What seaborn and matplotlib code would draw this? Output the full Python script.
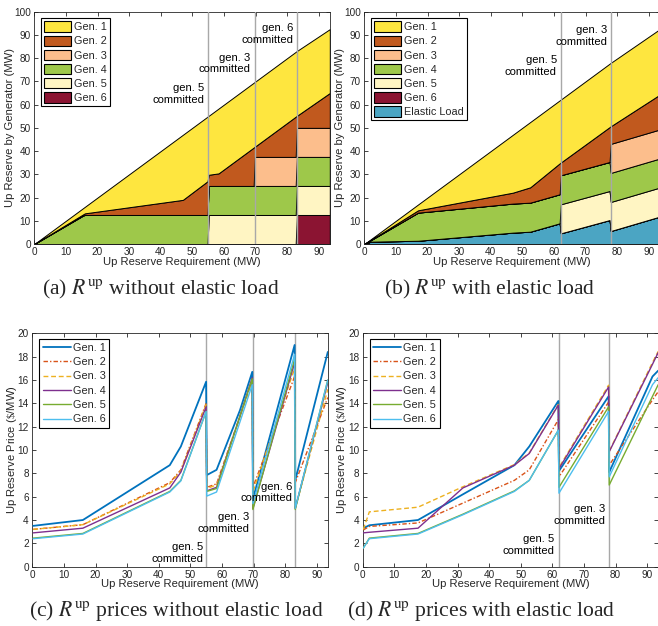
import matplotlib
matplotlib.use("Agg")
import matplotlib.pyplot as plt
from matplotlib.patches import Patch
import seaborn as sns

# ---------------- data ----------------
gen_labels = ["Gen. 1", "Gen. 2", "Gen. 3", "Gen. 4", "Gen. 5", "Gen. 6"]
elastic_label = "Elastic Load"

# (a) up reserve by generator, without elastic load
req_a = [0, 15.5, 16, 47, 54.8, 55.2, 58.3, 69.4, 69.8, 82.7, 83.1, 93.5]
a_gen1 = [0, 2.7, 2.8, 28.0, 27.8, 25.4, 27.9, 27.9, 27.9, 27.9, 27.9, 27.5]
a_gen2 = [0, 0.5, 0.7, 6.5, 14.5, 4.8, 5.4, 16.5, 4.4, 17.3, 5.2, 15.0]
a_gen3 = [0, 0, 0, 0, 0, 0, 0, 0, 12.5, 12.5, 12.5, 12.5]
a_gen4 = [0, 12.3, 12.5, 12.5, 12.5, 12.5, 12.5, 12.5, 12.5, 12.5, 12.5, 12.5]
a_gen5 = [0, 0, 0, 0, 0, 12.5, 12.5, 12.5, 12.5, 12.5, 12.5, 12.5]
a_gen6 = [0, 0, 0, 0, 0, 0, 0, 0, 0, 0, 12.5, 12.5]
commit_a = [55.1, 69.7, 83.1]

# (b) up reserve by generator, with elastic load
req_b = [0, 2, 17, 47, 52.5, 61.8, 62.2, 77.6, 78.0, 93.5]
b_gen1 = [0, 0.3, 2.5, 24.9, 28.1, 27.1, 27.1, 27.3, 27.3, 28.2]
b_gen2 = [0, 0.1, 1.0, 4.7, 6.6, 13.3, 5.5, 15.0, 7.6, 15.0]
b_gen3 = [0, 0, 0, 0, 0, 0, 0, 0, 12.5, 12.5]
b_gen4 = [0, 0.6, 12.1, 12.5, 12.5, 12.5, 12.5, 12.5, 12.5, 12.5]
b_gen5 = [0, 0, 0, 0, 0, 0, 12.5, 12.5, 12.5, 12.5]
b_gen6 = [0, 0, 0, 0, 0, 0, 0, 0, 0, 0]
b_elastic = [0, 1.0, 1.4, 4.9, 5.3, 8.9, 4.6, 10.3, 5.6, 11.8]
commit_b = [62.1, 78.0]

# (c) up reserve prices, without elastic load
req_c = [0.3, 16, 43.5, 47, 55.0, 55.2, 58.3, 65.7, 69.6, 69.8, 83.0, 83.2, 93.5]
c_gen1 = [3.5, 4.0, 8.7, 10.3, 15.85, 7.85, 8.3, 13.4, 16.7, 5.8, 19.0, 7.4, 18.4]
c_gen2 = [3.2, 3.6, 7.2, 8.3, 14.0, 6.8, 7.1, 12.9, 16.0, 6.8, 16.3, 7.2, 14.5]
c_gen3 = [3.2, 3.6, 7.1, 8.2, 13.9, 6.7, 7.0, 12.8, 15.9, 6.4, 17.0, 5.0, 15.2]
c_gen4 = [2.9, 3.3, 6.75, 8.1, 13.7, 6.5, 6.8, 12.9, 16.2, 5.0, 17.5, 5.0, 15.8]
c_gen5 = [2.45, 2.85, 6.45, 7.4, 13.3, 6.45, 6.7, 12.9, 16.1, 4.9, 17.8, 4.9, 16.0]
c_gen6 = [2.4, 2.8, 6.4, 7.35, 13.3, 6.05, 6.4, 12.4, 15.6, 5.4, 18.2, 5.0, 16.0]

# (d) up reserve prices, with elastic load
req_d = [0.2, 2.1, 17.5, 31.7, 48, 52.7, 61.9, 62.1, 77.8, 78.0, 91.7, 93.5]
d_gen1 = [3.3, 3.55, 4.0, 6.2, 8.7, 10.3, 14.2, 8.2, 14.6, 8.1, 16.3, 16.8]
d_gen2 = [3.15, 3.45, 3.75, 5.45, 7.4, 8.3, 12.6, 7.7, 14.1, 8.7, 14.3, 15.0]
d_gen3 = [3.2, 4.7, 5.1, 6.85, 8.75, 9.75, 13.9, 8.5, 15.55, 9.9, 17.5, 18.45]
d_gen4 = [2.9, 2.95, 3.3, 6.75, 8.7, 9.7, 13.85, 8.4, 15.4, 9.85, 17.35, 18.35]
d_gen5 = [1.6, 2.45, 2.85, 4.5, 6.5, 7.4, 11.7, 6.8, 13.7, 7.0, 14.6, 15.6]
d_gen6 = [1.6, 2.4, 2.8, 4.45, 6.45, 7.4, 11.7, 6.3, 13.3, 7.7, 15.6, 16.2]

xticks = list(range(0, 91, 10))
yticks_mw = list(range(0, 101, 10))
yticks_price = list(range(0, 21, 2))

# ---------------- style ----------------
sns.set_style("ticks")
plt.rcParams["font.family"] = ["Liberation Sans", "DejaVu Sans"]
plt.rcParams["mathtext.fontset"] = "stix"
TXT = "#262626"

area_colors = {
    "Gen. 1": "#FEE63F", "Gen. 2": "#C1591E", "Gen. 3": "#FCBE8C",
    "Gen. 4": "#9EC84A", "Gen. 5": "#FFF5C3", "Gen. 6": "#8B1432",
    "Elastic Load": "#4BA5C3",
}
line_colors = ["#0072BD", "#D95319", "#EDB120", "#7E2F8E", "#77AC30", "#4DBEEE"]
line_styles = ["-", (0, (3.2, 1.5, 1, 1.5)), (0, (3.5, 2)), "-", "-", "-"]
line_widths = [1.3, 1.0, 1.0, 1.0, 1.0, 1.0]

W, H = 658, 626
fig = plt.figure(figsize=(W / 100, H / 100), dpi=100)


def px_axes(left, top, right, bottom):
    return fig.add_axes([left / W, 1 - bottom / H, (right - left) / W, (bottom - top) / H])


ax_a = px_axes(34.3, 11.7, 329.8, 244)
ax_b = px_axes(364.3, 11.7, 659.8, 244)
ax_c = px_axes(32.3, 333.3, 327.8, 566.7)
ax_d = px_axes(362.7, 333.3, 658.2, 566.7)


def style_axes(ax, yticks, ylim, ylabel):
    ax.set_xlim(0, 93.5)
    ax.set_ylim(*ylim)
    ax.set_xticks(xticks)
    ax.set_yticks(yticks)
    ax.tick_params(direction="in", top=True, right=True, length=3, width=0.6,
                   labelsize=7.2, colors=TXT, pad=2.5)
    for s in ax.spines.values():
        s.set_visible(True)
        s.set_linewidth(0.6)
        s.set_color(TXT)
    ax.set_xlabel("Up Reserve Requirement (MW)", fontsize=8.1, color=TXT, labelpad=-0.5)
    ax.set_ylabel(ylabel, fontsize=8.1, color=TXT, labelpad=-1.0)


def add_notes(ax, notes):
    for txt, x, y in notes:
        ax.text(x, y, txt, ha="right", va="center", multialignment="right",
                fontsize=8.1, color="black", linespacing=1.22, zorder=6)


# ---- (a) ----
order_a = ["Gen. 6", "Gen. 5", "Gen. 4", "Gen. 3", "Gen. 2", "Gen. 1"]
vals_a = [a_gen6, a_gen5, a_gen4, a_gen3, a_gen2, a_gen1]
ax_a.stackplot(req_a, *vals_a, colors=[area_colors[k] for k in order_a],
               edgecolor="black", linewidth=0.7)
for xv in commit_a:
    ax_a.axvline(xv, color="#A8A8A8", lw=1.0, zorder=5)
style_axes(ax_a, yticks_mw, (0, 100), "Up Reserve by Generator (MW)")
add_notes(ax_a, [("gen. 5\ncommitted", 53.8, 64.6),
                 ("gen. 3\ncommitted", 68.3, 77.7),
                 ("gen. 6\ncommitted", 81.9, 90.5)])
handles_a = [Patch(facecolor=area_colors[k], edgecolor="black", linewidth=0.8) for k in gen_labels]

# ---- (b) ----
order_b = ["Elastic Load", "Gen. 6", "Gen. 5", "Gen. 4", "Gen. 3", "Gen. 2", "Gen. 1"]
vals_b = [b_elastic, b_gen6, b_gen5, b_gen4, b_gen3, b_gen2, b_gen1]
ax_b.stackplot(req_b, *vals_b, colors=[area_colors[k] for k in order_b],
               edgecolor="black", linewidth=0.7)
for xv in commit_b:
    ax_b.axvline(xv, color="#A8A8A8", lw=1.0, zorder=5)
style_axes(ax_b, yticks_mw, (0, 100), "Up Reserve by Generator (MW)")
add_notes(ax_b, [("gen. 5\ncommitted", 60.9, 76.5),
                 ("gen. 3\ncommitted", 76.8, 89.4)])
labels_b = gen_labels + [elastic_label]
handles_b = [Patch(facecolor=area_colors[k], edgecolor="black", linewidth=0.8) for k in labels_b]

for ax, hs, ls in [(ax_a, handles_a, gen_labels), (ax_b, handles_b, labels_b)]:
    leg = ax.legend(hs, ls, loc="upper left", bbox_to_anchor=(6.8 / 295.5, 1 - 6.5 / 232.3),
                    borderaxespad=0, fontsize=7.8, handlelength=2.5, handleheight=1.1,
                    handletextpad=0.25, labelspacing=0.3, borderpad=0.3,
                    fancybox=False, framealpha=1, edgecolor="black")
    leg.get_frame().set_linewidth(0.8)
    leg.set_zorder(10)

# ---- (c), (d) prices ----
for ax, xs, series, commits, notes in [
    (ax_c, req_c, [c_gen1, c_gen2, c_gen3, c_gen4, c_gen5, c_gen6], commit_a,
     [("gen. 5\ncommitted", 54.1, 1.15), ("gen. 3\ncommitted", 68.7, 3.75),
      ("gen. 6\ncommitted", 82.3, 6.35)]),
    (ax_d, req_d, [d_gen1, d_gen2, d_gen3, d_gen4, d_gen5, d_gen6], commit_b,
     [("gen. 5\ncommitted", 60.7, 1.85), ("gen. 3\ncommitted", 76.7, 4.4)]),
]:
    for xv in commits:
        ax.axvline(xv, color="#A8A8A8", lw=1.0, zorder=1)
    for i, ys in enumerate(series):
        sns.lineplot(x=xs, y=ys, ax=ax, color=line_colors[i], linestyle=line_styles[i],
                     lw=line_widths[i], label=gen_labels[i], sort=False, estimator=None,
                     zorder=3)
    style_axes(ax, yticks_price, (0, 20), "Up Reserve Price ($\\$$/MW)")
    add_notes(ax, notes)
    leg = ax.legend(loc="upper left", bbox_to_anchor=(6.8 / 295.5, 1 - 5.7 / 233.4),
                    borderaxespad=0, fontsize=7.8, handlelength=2.6,
                    handletextpad=0.15, labelspacing=0.4, borderpad=0.35,
                    fancybox=False, framealpha=1, edgecolor="black")
    leg.get_frame().set_linewidth(0.8)
    leg.set_zorder(10)

# ---- captions ----
cap_kw = dict(ha="center", va="center", fontsize=15.6, family=["Liberation Serif", "DejaVu Serif"])
fig.text(161 / W, 1 - 289 / H, r"(a) $R^{\rm up}$ without elastic load", **cap_kw)
fig.text(490 / W, 1 - 289 / H, r"(b) $R^{\rm up}$ with elastic load", **cap_kw)
fig.text(176 / W, 1 - 611 / H, r"(c) $R^{\rm up}$ prices without elastic load", **cap_kw)
fig.text(481 / W, 1 - 611 / H, r"(d) $R^{\rm up}$ prices with elastic load", **cap_kw)

fig.savefig("out.png", dpi=100)
